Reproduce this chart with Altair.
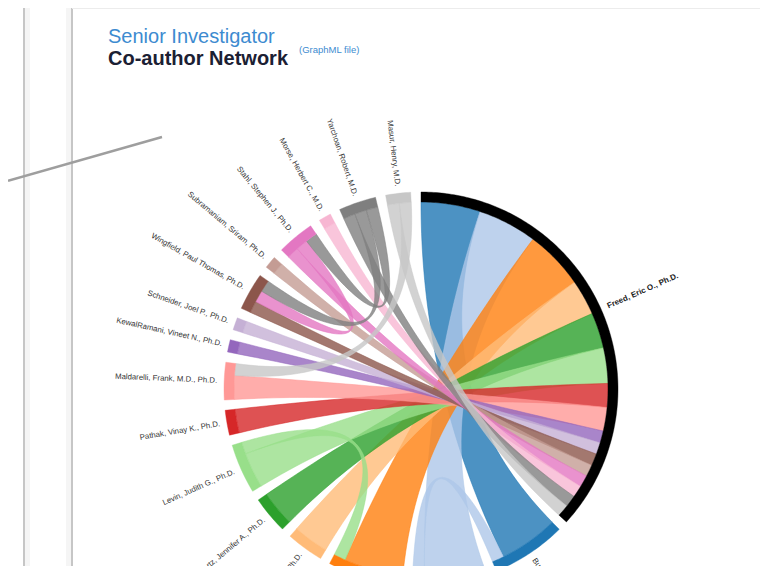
import math
import altair as alt
import pandas as pd

# ---------------- data ----------------
names = [
    "Freed, Eric O., Ph.D.",
    "Burke, Terrence R., Ph.D.",
    "Rein, Alan, Ph.D.",
    "Hughes, Stephen H., Ph.D.",
    "Hu, Wei-Shau, Ph.D.",
    "Swartz, Jennifer A., Ph.D.",
    "Levin, Judith G., Ph.D.",
    "Pathak, Vinay K., Ph.D.",
    "Maldarelli, Frank, M.D., Ph.D.",
    "KewalRamani, Vineet N., Ph.D.",
    "Schneider, Joel P., Ph.D.",
    "Wingfield, Paul Thomas, Ph.D.",
    "Subramaniam, Sriram, Ph.D.",
    "Stahl, Stephen J., Ph.D.",
    "Morse, Herbert C., M.D.",
    "Yarchoan, Robert, M.D.",
    "Masur, Henry, M.D.",
]
colors = [
    "#000000", "#1f77b4", "#aec7e8", "#ff7f0e", "#ffbb78", "#2ca02c",
    "#98df8a", "#d62728", "#ff9896", "#9467bd", "#c5b0d5", "#8c564b",
    "#c49c94", "#e377c2", "#f7b6d2", "#7f7f7f", "#c7c7c7",
]
edge_source = [0] * 16 + [1, 3, 8, 11, 11, 13]
edge_target = list(range(1, 17)) + [2, 6, 16, 13, 15, 15]
edge_papers = [5, 5, 5, 3, 3, 3, 2, 2, 1, 1, 1, 1, 1, 1, 1, 1,
               1, 1, 1, 1, 1, 1]

title_top = "Senior Investigator"
title_main = "Co-author Network"
title_note = "(GraphML file)"

# ---------------- chord layout (d3.chord style) ----------------
CX, CY = 421.0, 389.0
R_OUT, R_IN, R_LABEL = 197.0, 187.0, 204.0
PAD = 3.0
W, H = 752, 558

n = len(names)
matrix = [[0] * n for _ in range(n)]
for s, t, v in zip(edge_source, edge_target, edge_papers):
    matrix[s][t] += v
    matrix[t][s] += v
total = sum(sum(r) for r in matrix)
k = (360.0 - PAD * n) / total
sub = {}
groups = []
ang = 0.0
for i in range(n):
    a0 = ang
    for j in range(n):
        v = matrix[i][j]
        if v:
            sub[(i, j)] = (ang, ang + v * k)
            ang += v * k
    groups.append((a0, ang))
    ang += PAD


def pt(a_deg, r):
    a = math.radians(a_deg)
    return [round(CX + r * math.sin(a), 2), round(CY - r * math.cos(a), 2)]


def arc_pts(a0, a1, r):
    m = max(2, int(abs(a1 - a0) / 0.75) + 2)
    return [pt(a0 + (a1 - a0) * q / (m - 1), r) for q in range(m)]


def quad(p0, p2, m=48):
    out = []
    for q in range(m):
        t = q / (m - 1)
        x = (1 - t) ** 2 * p0[0] + 2 * (1 - t) * t * CX + t * t * p2[0]
        y = (1 - t) ** 2 * p0[1] + 2 * (1 - t) * t * CY + t * t * p2[1]
        out.append([round(x, 2), round(y, 2)])
    return out


ribbon_features = []
for s, t in sorted(zip(edge_source, edge_target), key=lambda e: (min(e), max(e))):
    sa0, sa1 = sub[(s, t)]
    ta0, ta1 = sub[(t, s)]
    ring = arc_pts(sa0, sa1, R_IN)
    ring += quad(pt(sa1, R_IN), pt(ta0, R_IN))[1:]
    ring += arc_pts(ta0, ta1, R_IN)[1:]
    ring += quad(pt(ta1, R_IN), pt(sa0, R_IN))[1:]
    ring[-1] = ring[0]
    ribbon_features.append({
        "type": "Feature",
        "geometry": {"type": "Polygon", "coordinates": [ring]},
        "properties": {"color": colors[max(s, t)], "pair": names[s] + " / " + names[t]},
    })

band_features = []
label_rows = []
for i, (a0, a1) in enumerate(groups):
    ring = arc_pts(a0, a1, R_OUT) + arc_pts(a1, a0, R_IN)
    ring.append(ring[0])
    band_features.append({
        "type": "Feature",
        "geometry": {"type": "Polygon", "coordinates": [ring]},
        "properties": {"color": colors[i], "name": names[i]},
    })
    mid = (a0 + a1) / 2
    x, y = pt(mid, R_LABEL)
    if mid < 180:
        side, rot = "right", (mid - 90) % 360
    else:
        side, rot = "left", (mid - 270) % 360
    label_rows.append({"name": names[i], "lx": x, "ly": y, "ang": rot,
                       "side": side, "hub": i == 0})
labels = pd.DataFrame(label_rows)

FONT = "Liberation Sans"

ribbons = alt.Chart(alt.Data(values=ribbon_features)).mark_geoshape(
    fillOpacity=0.8, strokeWidth=0.6, strokeOpacity=0.85
).encode(
    fill=alt.Fill("properties.color:N", scale=None),
    stroke=alt.Stroke("properties.color:N", scale=None),
)

bands = alt.Chart(alt.Data(values=band_features)).mark_geoshape(
    strokeWidth=0.4
).encode(
    fill=alt.Fill("properties.color:N", scale=None),
    stroke=alt.Stroke("properties.color:N", scale=None),
)

lab_hub = alt.Chart(labels).transform_filter("datum.hub").mark_text(
    align="left", baseline="middle", fontSize=8, fontWeight="bold",
    font=FONT, color="#222222"
).encode(
    longitude="lx:Q", latitude="ly:Q",
    angle=alt.Angle("ang:Q", scale=None), text="name:N",
)
lab_right = alt.Chart(labels).transform_filter(
    "!datum.hub && datum.side == 'right'").mark_text(
    align="left", baseline="middle", fontSize=7.8, font=FONT, color="#333333"
).encode(
    longitude="lx:Q", latitude="ly:Q",
    angle=alt.Angle("ang:Q", scale=None), text="name:N",
)
lab_left = alt.Chart(labels).transform_filter(
    "!datum.hub && datum.side == 'left'").mark_text(
    align="right", baseline="middle", fontSize=7.8, font=FONT, color="#333333"
).encode(
    longitude="lx:Q", latitude="ly:Q",
    angle=alt.Angle("ang:Q", scale=None), text="name:N",
)

t1 = alt.Chart(pd.DataFrame({"t": [title_top]})).mark_text(
    align="left", baseline="alphabetic", fontSize=20, font=FONT, color="#3d8bd0"
).encode(x=alt.value(100), y=alt.value(35), text="t:N")
t2 = alt.Chart(pd.DataFrame({"t": [title_main]})).mark_text(
    align="left", baseline="alphabetic", fontSize=20, fontWeight="bold",
    font=FONT, color="#1b2033"
).encode(x=alt.value(100), y=alt.value(57), text="t:N")
t3 = alt.Chart(pd.DataFrame({"t": [title_note]})).mark_text(
    align="left", baseline="alphabetic", fontSize=9.5, font=FONT, color="#3d8bd0"
).encode(x=alt.value(291), y=alt.value(45), text="t:N")

frame = pd.DataFrame({"k": [0]})
shadow_a = alt.Chart(frame).mark_rule(color="#f5f5f5", strokeWidth=5).encode(
    x=alt.value(19.5), y=alt.value(0), y2=alt.value(H))
shadow_b = alt.Chart(frame).mark_rule(color="#f5f5f5", strokeWidth=5).encode(
    x=alt.value(60.5), y=alt.value(0), y2=alt.value(H))
edge_a = alt.Chart(frame).mark_rule(color="#c6c6c6", strokeWidth=2).encode(
    x=alt.value(16), y=alt.value(0), y2=alt.value(H))
edge_b = alt.Chart(frame).mark_rule(color="#c6c6c6", strokeWidth=2).encode(
    x=alt.value(64), y=alt.value(0), y2=alt.value(H))
top_edge = alt.Chart(frame).mark_rule(color="#ececec", strokeWidth=2).encode(
    x=alt.value(64), x2=alt.value(W), y=alt.value(0))
connector = alt.Chart(frame).mark_rule(color="#9e9e9e", strokeWidth=2.5).encode(
    x=alt.value(0), y=alt.value(172.7), x2=alt.value(154), y2=alt.value(129))

chart = alt.layer(
    shadow_a, shadow_b, edge_a, edge_b, top_edge,
    ribbons, bands, lab_hub, lab_right, lab_left, t1, t2, t3, connector,
).project(
    type="identity", scale=1, translate=[-8, -8]
).properties(
    width=W, height=H, padding=0,
    autosize=alt.AutoSizeParams(type="none"),
).configure_view(strokeWidth=0)

chart.save("out.html", embed_options={"renderer": "svg", "actions": False})
